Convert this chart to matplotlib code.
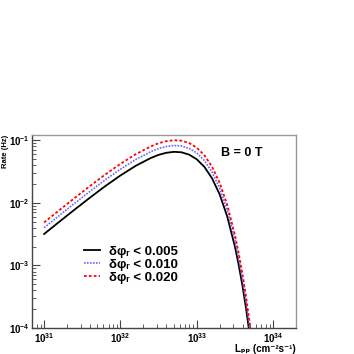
import matplotlib
matplotlib.use("Agg")
import matplotlib.pyplot as plt
from matplotlib.ticker import LogLocator, NullFormatter

plt.rcParams['font.family'] = ['Liberation Sans', 'DejaVu Sans']
plt.rcParams['font.weight'] = 'bold'
plt.rcParams['mathtext.fontset'] = 'custom'
plt.rcParams['mathtext.rm'] = 'Liberation Sans:bold'
plt.rcParams['mathtext.it'] = 'Liberation Sans:italic'
plt.rcParams['mathtext.bf'] = 'Liberation Sans:bold'

# Luminosity (cm^-2 s^-1)
lumi = [1.0e31, 1.585e31, 2.512e31, 3.981e31, 6.31e31, 1.0e32, 1.585e32, 2.512e32,
        3.162e32, 3.981e32, 5.012e32, 6.31e32, 7.943e32, 1.0e33, 1.259e33, 1.585e33,
        1.995e33, 2.512e33, 3.162e33, 3.548e33, 3.981e33, 4.467e33, 5.012e33, 5.623e33]

rate_005 = [0.00317, 0.00498, 0.00776, 0.0120, 0.0183, 0.0271, 0.0386, 0.0516,
            0.0577, 0.0622, 0.0645, 0.0634, 0.0582, 0.0491, 0.0372, 0.0245,
            0.0136, 0.00601, 0.00201, 0.00102, 0.00047, 0.000193, 0.0000697, 0.0000218]
rate_010 = [0.00399, 0.00627, 0.00978, 0.0151, 0.0231, 0.0341, 0.0486, 0.0650,
            0.0727, 0.0784, 0.0813, 0.0799, 0.0733, 0.0619, 0.0469, 0.0309,
            0.0171, 0.00757, 0.00253, 0.00129, 0.000592, 0.000243, 0.0000878, 0.0000275]
rate_020 = [0.00485, 0.00762, 0.01187, 0.01836, 0.0280, 0.0415, 0.0591, 0.0789,
            0.0883, 0.0952, 0.0987, 0.0970, 0.0890, 0.0751, 0.0569, 0.0375,
            0.0208, 0.00920, 0.00308, 0.00156, 0.000719, 0.000295, 0.000107, 0.0000334]

labels = ['δφᵣ < 0.005', 'δφᵣ < 0.010', 'δφᵣ < 0.020']

fig = plt.figure(figsize=(3.54, 3.54), dpi=100)
ax = fig.add_axes([0.0912, 0.0726, 0.745, 0.547])

ax.plot(lumi, rate_005, color='black', lw=1.3, ls='-', label=labels[0])
ax.plot(lumi, rate_010, color='#6666ff', lw=1.2, ls=(0, (1, 0.8)), label=labels[1])
ax.plot(lumi, rate_020, color='#ff0000', lw=1.3, ls=(0, (1.5, 1.2)), label=labels[2])

ax.set_xscale('log')
ax.set_yscale('log')
ax.set_xlim(7e30, 2e34)
ax.set_ylim(1e-4, 0.121)

ax.xaxis.set_major_locator(LogLocator(base=10, numticks=10))
ax.xaxis.set_minor_locator(LogLocator(base=10, subs=range(2, 10), numticks=20))
ax.yaxis.set_major_locator(LogLocator(base=10, numticks=10))
ax.yaxis.set_minor_locator(LogLocator(base=10, subs=range(2, 10), numticks=20))
ax.xaxis.set_minor_formatter(NullFormatter())
ax.yaxis.set_minor_formatter(NullFormatter())

ax.tick_params(which='both', direction='in', top=False, right=False,
               labelsize=7, color='#444444')
ax.tick_params(which='major', length=6, width=0.8)
ax.tick_params(which='minor', length=3, width=0.6)
ax.tick_params(axis='x', pad=2)
ax.tick_params(axis='y', pad=2)

for side in ['left', 'bottom']:
    ax.spines[side].set_color('#444444')
    ax.spines[side].set_linewidth(1.0)
for side in ['top', 'right']:
    ax.spines[side].set_color('#999999')
    ax.spines[side].set_linewidth(1.0)

ax.set_ylabel('Rate (Hz)', fontsize=5.5, fontweight='bold')
ax.yaxis.set_label_coords(-0.100, 1.0)
ax.yaxis.label.set_horizontalalignment('right')
ax.yaxis.label.set_verticalalignment('center')

ax.set_xlabel('Lₚₚ (cm⁻²s⁻¹)', fontsize=7, fontweight='bold')
ax.xaxis.set_label_coords(1.0, -0.08)
ax.xaxis.label.set_horizontalalignment('right')

ax.text(0.795, 0.905, 'B = 0 T', transform=ax.transAxes, fontsize=9,
        fontweight='bold', ha='center', va='center')

leg = ax.legend(loc='upper left', bbox_to_anchor=(0.17, 0.46), frameon=False,
                fontsize=9.5, handlelength=1.2, handletextpad=0.75,
                labelspacing=0.05, borderpad=0.0)

fig.savefig('out.png', dpi=100)
